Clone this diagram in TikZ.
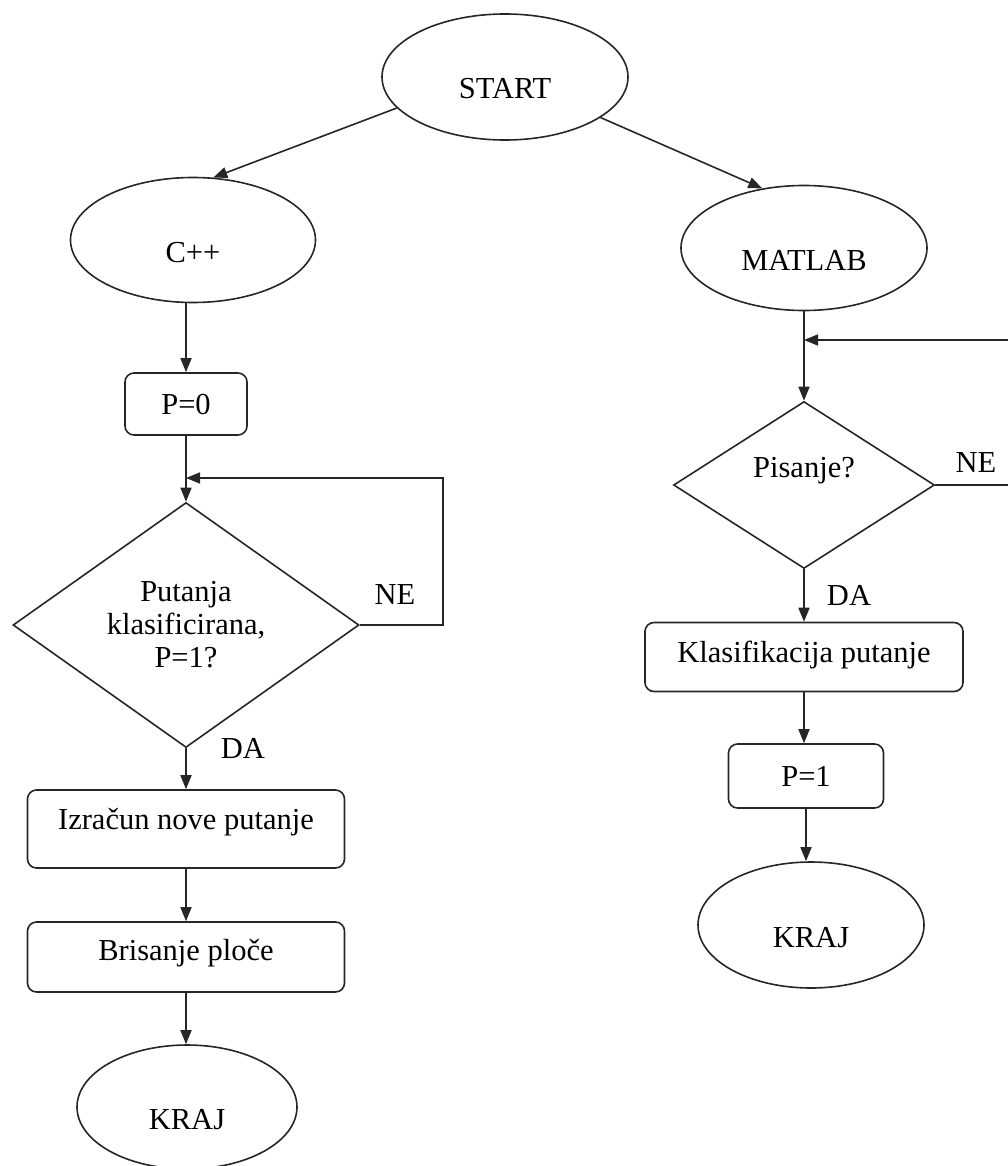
\documentclass[tikz,border=0pt]{standalone}
\usepackage{fontspec}
\setmainfont{Liberation Serif}
\usetikzlibrary{arrows.meta,shapes.geometric,calc}

\tikzset{
  term/.style={ellipse, draw, inner sep=0pt, text height=44pt, text depth=0pt},
  procbox/.style={rectangle, rounded corners=9pt, draw, inner sep=0pt, text height=20pt},
  decide/.style={diamond, draw, inner sep=0pt, align=center},
  arr/.style={-{Triangle[length=14pt,width=11pt]}},
}

\begin{document}
\begin{tikzpicture}[x=1pt, y=-1pt, line width=1.6pt, draw=black!85,
    font=\fontsize{30.5pt}{33pt}\selectfont]
    \useasboundingbox (0,0) rectangle (1008,1166);
    \clip (0,0) rectangle (1008,1166);
    % start and the two branches
    \node[term, minimum width=246pt, minimum height=126pt] (start) at (505,77) {START};
    \node[term, minimum width=245pt, minimum height=125pt] (cpp) at (193,240) {C++};
    \node[term, minimum width=246pt, minimum height=125pt] (mat) at (804,248) {MATLAB};
    \draw[arr] (start.196) -- (cpp.72);
    \draw[arr] (start.337) -- (mat.125);
    % left column: C++
    \node[procbox, minimum width=122pt, minimum height=62pt, text depth=0pt] (p0) at (186,404) {P=0};
    \node[decide, minimum width=346pt, minimum height=220pt] (dk) at (186,625)
      {Putanja\\klasificirana,\\P=1?};
    \node[procbox, minimum width=317pt, minimum height=78pt, text depth=20pt] (izr) at (186,829)
      {Izračun nove putanje};
    \node[procbox, minimum width=317pt, minimum height=70pt, text depth=14pt] (bri) at (186,957)
      {Brisanje ploče};
    \node[term, minimum width=220pt, minimum height=124pt] (krajL) at (187,1107) {KRAJ};
    \coordinate (ccL) at (443,478);
    \coordinate (jnL) at (186,478);
    \draw[arr] (p0.north |- cpp.south) -- (p0.north);
    \draw (p0.south) -- (jnL);
    \draw[arr] (jnL) -- (dk.north);
    \draw[arr] (dk.east) -| (ccL) -- (jnL);
    \node (neL) at (395,595) {NE};
    \draw[arr] (dk.south) -- (izr.north);
    \node (daL) at (243,748) {DA};
    \draw[arr] (izr.south) -- (bri.north);
    \draw[arr] (bri.south) -- (bri.south |- krajL.north);
    % right column: MATLAB
    \node[decide, minimum width=261pt, minimum height=167pt, text height=20pt, text depth=36pt]
      (dp) at (804,485) {Pisanje?};
    \node[procbox, minimum width=318pt, minimum height=69pt, text depth=10pt] (kla) at (804,657)
      {Klasifikacija putanje};
    \node[procbox, minimum width=155pt, minimum height=64pt, text depth=0pt] (p1) at (806,776) {P=1};
    \node[term, minimum width=226pt, minimum height=126pt] (krajR) at (811,925) {KRAJ};
    \coordinate (ccR) at (1040,340);
    \coordinate (jnR) at (804,340);
    \draw (mat.south) -- (jnR);
    \draw[arr] (jnR) -- (dp.north);
    \draw[arr] (dp.east) -| (ccR) -- (jnR);
    \node (neR) at (976,463) {NE};
    \draw[arr] (dp.south) -- (kla.north);
    \node (daR) at (849,595) {DA};
    \draw[arr] (kla.south) -- (kla.south |- p1.north);
    \draw[arr] (p1.south) -- (p1.south |- krajR.north);
\end{tikzpicture}
\end{document}
